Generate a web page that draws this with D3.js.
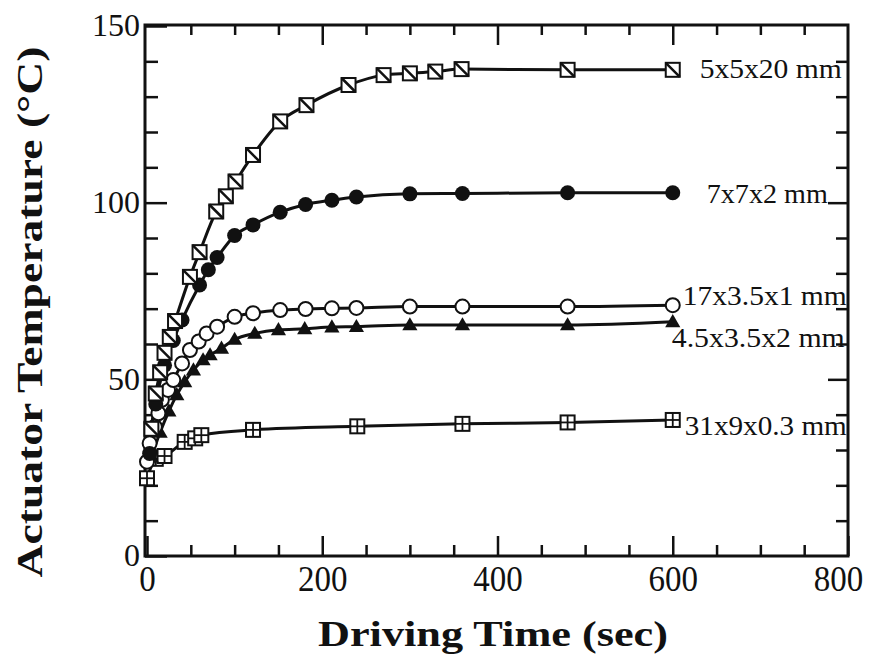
<!DOCTYPE html>
<html>
<head>
<meta charset="utf-8">
<script src="https://cdn.jsdelivr.net/npm/d3@7"></script>
<style>
  body { margin: 0; background: #fff; }
</style>
</head>
<body>
<svg id="chart" width="873" height="655" font-family="'Liberation Serif', 'Times New Roman', serif"></svg>
<script>
// data: [time (sec), temperature (C)]
var seriesNames = ['5x5x20 mm', '7x7x2 mm', '17x3.5x1 mm', '4.5x3.5x2 mm', '31x9x0.3 mm'];

var temp5x5x20 = [[5,36],[10,46],[15,52],[20,57.5],[26,62],[32,66.5],[49,79],[60,86],[79,97.5],[90,101.8],
  [101,106],[121,113.5],[152,123],[182,127.6],[230,133.3],[270,136.1],[300,136.6],[329,137.1],[359,137.8],
  [480,137.6],[600,137.6]];
var temp7x7x2 = [[3,29],[10,43],[20,54],[30,61],[40,66.8],[60,76.7],[70,81],[80,84.5],[100,90.7],[121,93.7],
  [152,97.3],[181,99.5],[211,100.7],[239,101.6],[300,102.5],[360,102.6],[480,102.8],[600,102.8]];
var temp17x35x1 = [[0,26.7],[3,31.9],[9,36.6],[13,40.4],[17,44.2],[24,47],[30,49.8],[40,54.5],[49,58.3],[59,60.7],
  [68,63],[80,64.9],[100,67.7],[121,68.7],[152,69.6],[181,69.9],[211,70.1],[239,70.2],[300,70.6],[360,70.6],
  [480,70.6],[600,71]];
var temp45x35x2 = [[5,28],[15,35],[25,41],[34,45.6],[43,49.3],[53,52.6],[64,55.5],[72,56.9],[85,58.8],[100,61.3],
  [123,63],[150,64],[180,64.3],[211,64.8],[239,64.9],[300,65.4],[360,65.4],[480,65.4],[600,66.3]];
var temp31x9x03 = [[0,22],[10,27.5],[20,28.3],[43,32.3],[55,33.3],[62,34.2],[121,35.7],[240,36.7],[360,37.4],
  [480,37.8],[600,38.5]];

var xMajorTicks = [0, 200, 400, 600, 800];
var yMajorTicks = [0, 50, 100, 150];

var svg = d3.select('#chart');
var serif = "'Liberation Serif', 'Times New Roman', Times, serif";

var x = d3.scaleLinear().domain([0, 800]).range([147, 848]);
var y = d3.scaleLinear().domain([0, 150]).range([556, 26]);

// marker + label placement per series (layout only)
var series = [
  {name: seriesNames[4], values: temp31x9x03, marker: 'crossSquare', dx: 12, dy: 15, len: 162},
  {name: seriesNames[3], values: temp45x35x2, marker: 'filledTriangle', dx: -1, dy: 25, len: 173},
  {name: seriesNames[2], values: temp17x35x1, marker: 'openCircle', dx: 10, dy: 0, len: 164},
  {name: seriesNames[1], values: temp7x7x2, marker: 'filledCircle', dx: 34, dy: 10, len: 121},
  {name: seriesNames[0], values: temp5x5x20, marker: 'diagSquare', dx: 27, dy: 8, len: 142}
];

// frame
svg.append('rect')
  .attr('x', 145).attr('y', 25)
  .attr('width', 703).attr('height', 531)
  .attr('fill', 'none').attr('stroke', '#111').attr('stroke-width', 3);

function minorOf(step, max, majors) {
  return d3.range(0, max + 1, step).filter(function(v) { return majors.indexOf(v) < 0; });
}
var xMinor = minorOf(50, 800, xMajorTicks);
var yMinor = minorOf(10, 150, yMajorTicks);

// digits in the scan are tall and narrow, so squeeze them with textLength
function styleAxis(size, digitW) {
  return function(g) {
    g.select('.domain').remove();
    g.selectAll('line').attr('stroke', '#111').attr('stroke-width', 2.5);
    g.attr('font-family', serif).attr('font-size', size);
    g.selectAll('text').attr('fill', '#111').attr('lengthAdjust', 'spacingAndGlyphs')
      .attr('textLength', function(d) { return String(d).length * digitW; });
  };
}
var plain = styleAxis(30, 16);

// bottom
var xAxisG = svg.append('g').attr('transform', 'translate(0,556)')
  .call(d3.axisBottom(x).tickValues(xMajorTicks).tickSize(-20).tickPadding(9).tickFormat(d3.format('d')))
  .call(styleAxis(36, 16.5));
// last label sits a little left of its tick in the scan (keeps it inside the page)
xAxisG.selectAll('text').filter(function(d) { return d === 800; }).attr('x', -10);
svg.append('g').attr('transform', 'translate(0,556)')
  .call(d3.axisBottom(x).tickValues(xMinor).tickSize(-11).tickFormat(''))
  .call(plain);
// top
svg.append('g').attr('transform', 'translate(0,25)')
  .call(d3.axisTop(x).tickValues(xMajorTicks.slice(1, 4)).tickSize(-20).tickFormat(''))
  .call(plain);
svg.append('g').attr('transform', 'translate(0,25)')
  .call(d3.axisTop(x).tickValues(xMinor).tickSize(-10).tickFormat(''))
  .call(plain);
// left
svg.append('g').attr('transform', 'translate(145,0)')
  .call(d3.axisLeft(y).tickValues(yMajorTicks).tickSize(-22).tickPadding(5).tickFormat(d3.format('d')))
  .call(styleAxis(31, 16));
svg.append('g').attr('transform', 'translate(145,0)')
  .call(d3.axisLeft(y).tickValues(yMinor).tickSize(-13).tickFormat(''))
  .call(plain);
// right
svg.append('g').attr('transform', 'translate(848,0)')
  .call(d3.axisRight(y).tickValues(yMajorTicks.slice(1, 3)).tickSize(-20).tickFormat(''))
  .call(plain);
svg.append('g').attr('transform', 'translate(848,0)')
  .call(d3.axisRight(y).tickValues(yMinor).tickSize(-12).tickFormat(''))
  .call(plain);

// curves
var line = d3.line()
  .x(function(d) { return x(d[0]); })
  .y(function(d) { return y(d[1]); })
  .curve(d3.curveMonotoneX);

svg.selectAll('.curve')
  .data(series)
  .enter().append('path')
  .attr('class', 'curve')
  .attr('d', function(d) { return line(d.values); })
  .attr('fill', 'none')
  .attr('stroke', '#111')
  .attr('stroke-width', 3);

// markers
var triangle = d3.symbol().type(d3.symbolTriangle).size(100);

function drawMarker(g, kind) {
  if (kind === 'diagSquare' || kind === 'crossSquare') {
    g.append('rect').attr('x', -7).attr('y', -7).attr('width', 14).attr('height', 14)
      .attr('fill', '#fff').attr('stroke', '#111').attr('stroke-width', 2);
    if (kind === 'diagSquare') {
      g.append('line').attr('x1', -7).attr('y1', -7).attr('x2', 7).attr('y2', 7)
        .attr('stroke', '#111').attr('stroke-width', 2.5);
    } else {
      g.append('line').attr('x1', 0).attr('y1', -7).attr('x2', 0).attr('y2', 7)
        .attr('stroke', '#111').attr('stroke-width', 1.8);
      g.append('line').attr('x1', -7).attr('y1', 0).attr('x2', 7).attr('y2', 0)
        .attr('stroke', '#111').attr('stroke-width', 1.8);
    }
  } else if (kind === 'filledCircle') {
    g.append('circle').attr('r', 7.5).attr('fill', '#111');
  } else if (kind === 'openCircle') {
    g.append('circle').attr('r', 7).attr('fill', '#fff').attr('stroke', '#111').attr('stroke-width', 2);
  } else if (kind === 'filledTriangle') {
    g.append('path').attr('d', triangle).attr('transform', 'translate(0,1)').attr('fill', '#111');
  }
}

series.forEach(function(s) {
  svg.append('g').selectAll('g')
    .data(s.values)
    .enter().append('g')
    .attr('transform', function(d) { return 'translate(' + x(d[0]) + ',' + y(d[1]) + ')'; })
    .each(function() { drawMarker(d3.select(this), s.marker); });
});

// series labels
svg.selectAll('.lbl')
  .data(series)
  .enter().append('text')
  .attr('class', 'lbl')
  .attr('x', function(d) { var last = d.values[d.values.length - 1]; return x(last[0]) + d.dx; })
  .attr('y', function(d) { var last = d.values[d.values.length - 1]; return y(last[1]) + d.dy; })
  .attr('textLength', function(d) { return d.len; })
  .attr('lengthAdjust', 'spacingAndGlyphs')
  .attr('font-family', serif)
  .attr('font-size', 27)
  .attr('fill', '#111')
  .text(function(d) { return d.name; });

// axis titles
svg.append('text')
  .attr('x', 493).attr('y', 646)
  .attr('text-anchor', 'middle')
  .attr('textLength', 350).attr('lengthAdjust', 'spacingAndGlyphs')
  .attr('font-family', serif).attr('font-size', 36).attr('font-weight', 'bold')
  .attr('fill', '#111')
  .text('Driving  Time  (sec)');

svg.append('text')
  .attr('transform', 'translate(42,312) rotate(-90)')
  .attr('text-anchor', 'middle')
  .attr('textLength', 531).attr('lengthAdjust', 'spacingAndGlyphs')
  .attr('font-family', serif).attr('font-size', 36).attr('font-weight', 'bold')
  .attr('fill', '#111')
  .text('Actuator  Temperature  (\u00B0C)');
</script>
</body>
</html>
